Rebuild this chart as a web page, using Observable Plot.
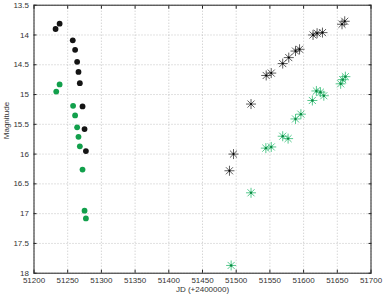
<!DOCTYPE html>
<html>
<head>
<meta charset="utf-8">
<script src="https://cdn.jsdelivr.net/npm/d3@7"></script>
<script src="https://cdn.jsdelivr.net/npm/@observablehq/plot@0.6"></script>
<style>
  html, body { margin: 0; padding: 0; background: #fff; }
  svg { display: block; }
</style>
</head>
<body>
<div id="chart"></div>
<script>
// --- data ---
const circleBlackJD  = [51232, 51238, 51257.5, 51261, 51264, 51266, 51268, 51272, 51275, 51277];
const circleBlackMag = [13.90, 13.81, 14.09, 14.25, 14.45, 14.62, 14.81, 15.20, 15.58, 15.95];
const circleGreenJD  = [51233, 51238, 51258, 51261, 51264, 51266, 51268, 51272, 51275, 51277];
const circleGreenMag = [14.95, 14.83, 15.19, 15.35, 15.55, 15.71, 15.87, 16.26, 16.95, 17.08];
const starBlackJD  = [51490, 51496, 51522, 51544.5, 51552, 51569, 51578, 51588, 51594, 51614, 51620, 51628, 51657, 51661];
const starBlackMag = [16.28, 16.00, 15.16, 14.68, 14.64, 14.48, 14.38, 14.27, 14.24, 14.00, 13.97, 13.96, 13.82, 13.77];
const starGreenJD  = [51492.5, 51522, 51544, 51552, 51569, 51577, 51588, 51596, 51613, 51619, 51625, 51630, 51655, 51658, 51662];
const starGreenMag = [17.87, 16.65, 15.90, 15.88, 15.70, 15.74, 15.41, 15.33, 15.10, 14.94, 14.96, 15.02, 14.82, 14.75, 14.70];
const xTicks = [51200, 51250, 51300, 51350, 51400, 51450, 51500, 51550, 51600, 51650, 51700];
const yTicks = [13.5, 14, 14.5, 15, 15.5, 16, 16.5, 17, 17.5, 18];
const xLabel = "JD (+2400000)";
const yLabel = "Magnitude";

const zip = (xs, ys) => xs.map((x, i) => ({jd: x, mag: ys[i]}));
const cBlack = zip(circleBlackJD, circleBlackMag);
const cGreen = zip(circleGreenJD, circleGreenMag);
const sBlack = zip(starBlackJD, starBlackMag);
const sGreen = zip(starGreenJD, starGreenMag);

const asterisk = {
  draw(ctx, size) {
    const r = Math.sqrt(size / Math.PI);
    for (let k = 0; k < 4; k++) {
      const a = k * Math.PI / 4;
      const c = Math.cos(a) * r, s = Math.sin(a) * r;
      ctx.moveTo(c, s);
      ctx.lineTo(-c, -s);
    }
  }
};

const GREEN = "#12a04c";
const STARGREEN = "#2dbb72";
const fmt = d => String(d);

const chart = Plot.plot({
  width: 384,
  height: 297,
  marginLeft: 33.5,
  marginRight: 13.5,
  marginTop: 4.7,
  marginBottom: 24.3,
  style: {fontFamily: "'Liberation Sans', Arial, sans-serif", fontSize: "8px", background: "#fff", color: "#333"},
  x: {domain: [51200, 51700], ticks: xTicks},
  y: {domain: [18, 13.5], ticks: yTicks},
  marks: [
    Plot.gridX(xTicks, {stroke: "#b5b5b5", strokeOpacity: 1, strokeDasharray: "1,2", strokeWidth: 0.8}),
    Plot.gridY(yTicks, {stroke: "#b5b5b5", strokeOpacity: 1, strokeDasharray: "1,2", strokeWidth: 0.8}),
    Plot.axisX(xTicks, {anchor: "bottom", tickSize: 0, tickPadding: 4, tickFormat: fmt, label: null, fill: "#333"}),
    Plot.axisY(yTicks, {anchor: "left", tickSize: 0, tickPadding: 5, tickFormat: fmt, label: null, fill: "#333"}),
    Plot.axisX(xTicks, {anchor: "bottom", tickSize: -3, tickFormat: () => "", label: null, stroke: "#222"}),
    Plot.axisX(xTicks, {anchor: "top", tickSize: -3, tickFormat: () => "", label: null, stroke: "#222"}),
    Plot.axisY(yTicks, {anchor: "left", tickSize: -3, tickFormat: () => "", label: null, stroke: "#222"}),
    Plot.axisY(yTicks, {anchor: "right", tickSize: -3, tickFormat: () => "", label: null, stroke: "#222"}),
    Plot.frame({stroke: "#222", strokeWidth: 1}),
    Plot.dot(cBlack, {x: "jd", y: "mag", r: 2.9, fill: "#141414"}),
    Plot.dot(cGreen, {x: "jd", y: "mag", r: 2.9, fill: GREEN}),
    Plot.dot(sBlack, {x: "jd", y: "mag", r: 5, symbol: asterisk, stroke: "#333", strokeWidth: 0.8, fill: "none"}),
    Plot.dot(sBlack, {x: "jd", y: "mag", r: 1, fill: "#000"}),
    Plot.dot(sGreen, {x: "jd", y: "mag", r: 5, symbol: asterisk, stroke: STARGREEN, strokeWidth: 0.8, fill: "none"}),
    Plot.dot(sGreen, {x: "jd", y: "mag", r: 1.2, fill: "#0a8a40"}),
    Plot.text([xLabel], {frameAnchor: "bottom", dy: 13, lineAnchor: "top", fill: "#333", fontSize: 8}),
    Plot.text([yLabel], {frameAnchor: "left", dx: -28, rotate: -90, fill: "#333", fontSize: 8})
  ]
});
document.getElementById("chart").appendChild(chart);
</script>
</body>
</html>
